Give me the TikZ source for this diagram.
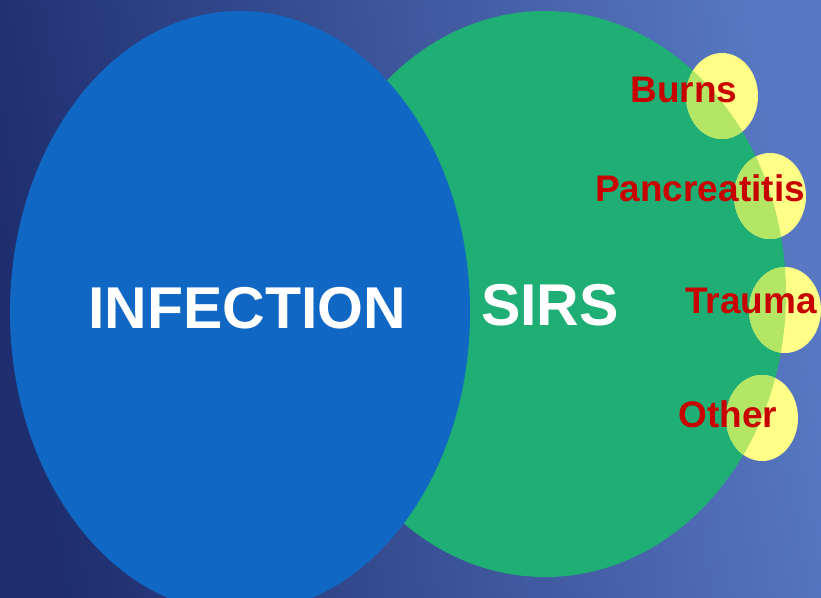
\documentclass[tikz,border=0pt]{standalone}
\usepackage{fontspec}
\setmainfont{Liberation Sans}
\definecolor{bgleft}{RGB}{30,46,110}
\definecolor{bgright}{RGB}{88,120,195}
\definecolor{infblue}{RGB}{16,104,196}
\definecolor{sirsgreen}{RGB}{31,174,116}
\definecolor{paleyellow}{RGB}{255,255,136}
\definecolor{palegreen}{RGB}{178,230,100}
\definecolor{labelred}{RGB}{200,0,0}
\begin{document}
\begin{tikzpicture}[x=1pt,y=-1pt,
  bigtext/.style={font=\bfseries\fontsize{59}{59}\selectfont, text=white, inner sep=0pt},
  causetext/.style={font=\bfseries\fontsize{37}{37}\selectfont, text=labelred, inner sep=0pt},
  cause/.style={fill=paleyellow, draw=none}]
\useasboundingbox (0,0) rectangle (821,597);
\shade[left color=bgleft, right color=bgright, shading angle=100] (0,0) rectangle (821,597);
% SIRS ellipse
\fill[sirsgreen] (545,294) ellipse [x radius=241, y radius=283];
% cause circles
\foreach \cx/\cy in {722/96, 770/196, 785/310, 762/418}{
  \fill[paleyellow] (\cx,\cy) ellipse [x radius=36, y radius=43];
  \begin{scope}
    \clip (545,294) ellipse [x radius=241, y radius=283];
    \fill[palegreen] (\cx,\cy) ellipse [x radius=36, y radius=43];
  \end{scope}
}
% INFECTION ellipse
\fill[infblue] (240,312) ellipse [x radius=230, y radius=301];
\node[bigtext] (inf) at (247,308) {INFECTION};
\node[bigtext] (sirs) at (550,305) {SIRS};
\node[causetext] (burns) at (684,90) {Burns};
\node[causetext] (panc) at (700,188) {Pancreatitis};
\node[causetext] (trauma) at (751,301) {Trauma};
\node[causetext] (other) at (728,414) {Other};
\end{tikzpicture}
\end{document}
